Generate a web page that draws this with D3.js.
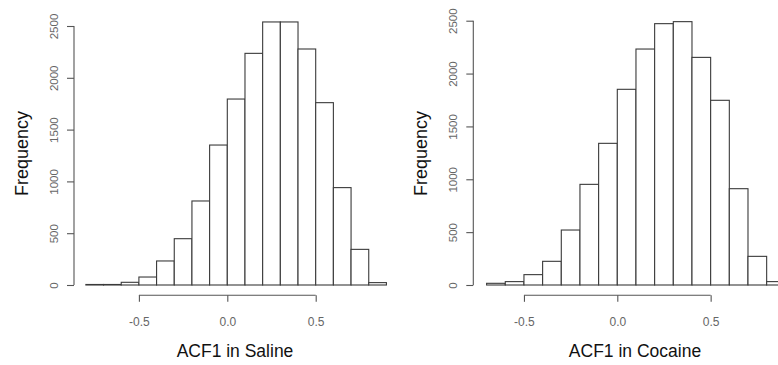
<!DOCTYPE html>
<html><head><meta charset="utf-8">
<script src="https://cdn.jsdelivr.net/npm/d3@7"></script>
<style>
body{margin:0;background:#fff;}
svg{display:block;font-family:"Liberation Sans",Arial,sans-serif;}
</style></head>
<body><svg id="c" width="778" height="365"></svg>
<script>
// Data
const salineBinStart = -0.8;
const salineCounts = [5, 5, 26, 77, 232, 447, 811, 1351, 1795, 2236, 2539, 2539, 2278, 1760, 940, 344, 23];
const cocaineBinStart = -0.7;
const cocaineCounts = [16, 32, 98, 224, 520, 952, 1340, 1851, 2232, 2472, 2491, 2153, 1747, 911, 271, 32];
const binWidth = 0.1;
const xTicks = [-0.5, 0.0, 0.5];
const xTickLabels = ["-0.5", "0.0", "0.5"];
const yTicks = [0, 500, 1000, 1500, 2000, 2500];
const titles = ["ACF1 in Saline", "ACF1 in Cocaine"];
const yLabel = "Frequency";

const svg = d3.select("#c");

const panels = [
  {counts: salineCounts, start: salineBinStart, title: titles[0],
   x0: 227.3, xs: 176.8, yaxisX: 74, yTop: 26, titleX: 235, freqX: 28},
  {counts: cocaineCounts, start: cocaineBinStart, title: titles[1],
   x0: 617.3, xs: 186.7, yaxisX: 473.3, yTop: 20.7, titleX: 635, freqX: 427}
];

panels.forEach(p => {
  const bins = p.counts.map((c, i) => ({x0: +(p.start + i*binWidth).toFixed(2), x1: +(p.start + (i+1)*binWidth).toFixed(2), n: c}));
  const x = d3.scaleLinear().domain([0, 1]).range([p.x0, p.x0 + p.xs]);
  const y = d3.scaleLinear().domain([0, 2500]).range([285, p.yTop]);
  const g = svg.append("g");

  g.selectAll("rect.bar").data(bins).enter().append("rect")
    .attr("class","bar")
    .attr("x", d => x(d.x0))
    .attr("width", d => x(d.x1) - x(d.x0))
    .attr("y", d => y(d.n))
    .attr("height", d => y(0) - y(d.n))
    .attr("fill", "#fff")
    .attr("stroke", "#3a3a3a")
    .attr("stroke-width", 1.1);

  // x axis
  const xa = g.append("g").attr("transform", "translate(0,295.3)")
    .call(d3.axisBottom(x).tickValues(xTicks).tickFormat((d, i) => xTickLabels[i]).tickSize(6.5).tickSizeOuter(0));
  xa.select(".domain").remove();
  xa.append("line").attr("x1", x(xTicks[0])).attr("x2", x(xTicks[xTicks.length-1]))
    .attr("y1", 0).attr("y2", 0).attr("stroke", "#555").attr("stroke-width", 1.1);
  xa.selectAll(".tick line").attr("stroke", "#555").attr("stroke-width", 1.1);
  xa.selectAll(".tick text").attr("y", 30.7).attr("dy", 0)
    .attr("fill", "#666").style("font-size", "12px").style("font-family", "Liberation Sans, Arial, sans-serif");

  // y axis
  const ya = g.append("g").attr("transform", `translate(${p.yaxisX},0)`)
    .call(d3.axisLeft(y).tickValues(yTicks).tickFormat(d3.format("d")).tickSize(7).tickSizeOuter(0));
  ya.select(".domain").remove();
  ya.append("line").attr("x1", 0).attr("x2", 0).attr("y1", y(0)).attr("y2", y(2500))
    .attr("stroke", "#555").attr("stroke-width", 1.1);
  ya.selectAll(".tick line").attr("stroke", "#555").attr("stroke-width", 1.1);
  ya.selectAll(".tick text").attr("x", 0).attr("y", -16).attr("dy", 0)
    .attr("transform", "rotate(-90)").attr("text-anchor", "middle")
    .attr("fill", "#666").style("font-size", "11.5px").style("font-family", "Liberation Sans, Arial, sans-serif");

  // titles
  g.append("text").attr("x", p.titleX).attr("y", 357).attr("text-anchor", "middle")
    .style("font-size", "17.5px").attr("fill", "#111").text(p.title);
  g.append("text").attr("transform", `translate(${p.freqX},153.5) rotate(-90)`)
    .attr("text-anchor", "middle").style("font-size", "18px").attr("fill", "#111").text(yLabel);
});
</script></body></html>
